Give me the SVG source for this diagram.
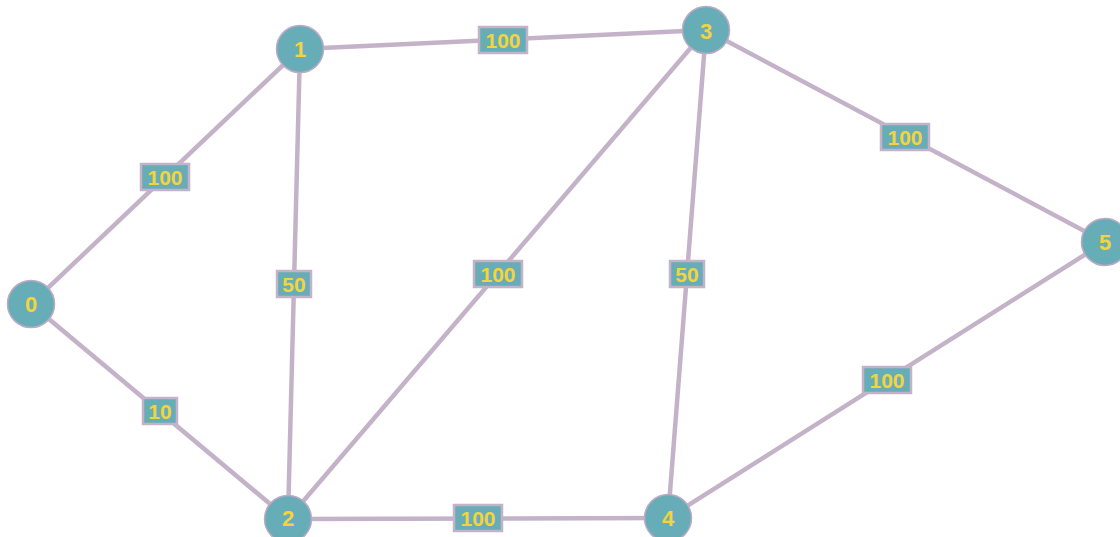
<svg xmlns="http://www.w3.org/2000/svg" width="1120" height="537" viewBox="0 0 1120 537">
<style>
.e{stroke:#c4b3c8;stroke-width:4.5;fill:none}
.n circle{fill:#67adb8;stroke:#bcaac4;stroke-width:1.5}
.n text,.l text{font-family:"Liberation Sans",Arial,sans-serif;font-weight:bold;fill:#f3d43e;text-anchor:middle;dominant-baseline:central}
.n text{font-size:22px}
.l rect{fill:#67adb8;stroke:#c4b3c8;stroke-width:2.5}
.l text{font-size:21px}
</style>
<rect width="1120" height="537" fill="#ffffff"/>
<g id="connectors">
<line class="e" x1="31" y1="304" x2="300" y2="49"/>
<line class="e" x1="31" y1="304" x2="288" y2="519"/>
<line class="e" x1="300" y1="49" x2="706" y2="30"/>
<line class="e" x1="300" y1="49" x2="288" y2="519"/>
<line class="e" x1="288" y1="519" x2="706" y2="30"/>
<line class="e" x1="706" y1="30" x2="668" y2="518"/>
<line class="e" x1="706" y1="30" x2="1105" y2="242"/>
<line class="e" x1="288" y1="519" x2="668" y2="518"/>
<line class="e" x1="668" y1="518" x2="1105" y2="242"/>
<g class="l"><rect x="141" y="164" width="48" height="26"/><text x="165" y="177">100</text></g>
<g class="l"><rect x="479" y="27" width="48" height="26"/><text x="503" y="40">100</text></g>
<g class="l"><rect x="881" y="124" width="48" height="26"/><text x="905" y="137">100</text></g>
<g class="l"><rect x="277" y="271" width="34" height="26"/><text x="294" y="284">50</text></g>
<g class="l"><rect x="474" y="261" width="48" height="26"/><text x="498" y="274">100</text></g>
<g class="l"><rect x="670" y="261" width="34" height="26"/><text x="687" y="274">50</text></g>
<g class="l"><rect x="143" y="398" width="34" height="26"/><text x="160" y="411">10</text></g>
<g class="l"><rect x="863" y="367" width="48" height="26"/><text x="887" y="380">100</text></g>
<g class="l"><rect x="454" y="505" width="48" height="26"/><text x="478" y="518">100</text></g>
</g>
<g id="node0" class="n"><circle cx="31" cy="304" r="23.5"/><text x="31" y="304">0</text></g>
<g id="node1" class="n"><circle cx="300" cy="49" r="23.5"/><text x="300" y="49">1</text></g>
<g id="node2" class="n"><circle cx="288" cy="519" r="23.5"/><text x="288" y="518">2</text></g>
<g id="node3" class="n"><circle cx="706" cy="30" r="23.5"/><text x="706" y="31">3</text></g>
<g id="node4" class="n"><circle cx="668" cy="518" r="23.5"/><text x="668" y="518">4</text></g>
<g id="node5" class="n"><circle cx="1105" cy="242" r="23.5"/><text x="1105" y="242">5</text></g>
</svg>
